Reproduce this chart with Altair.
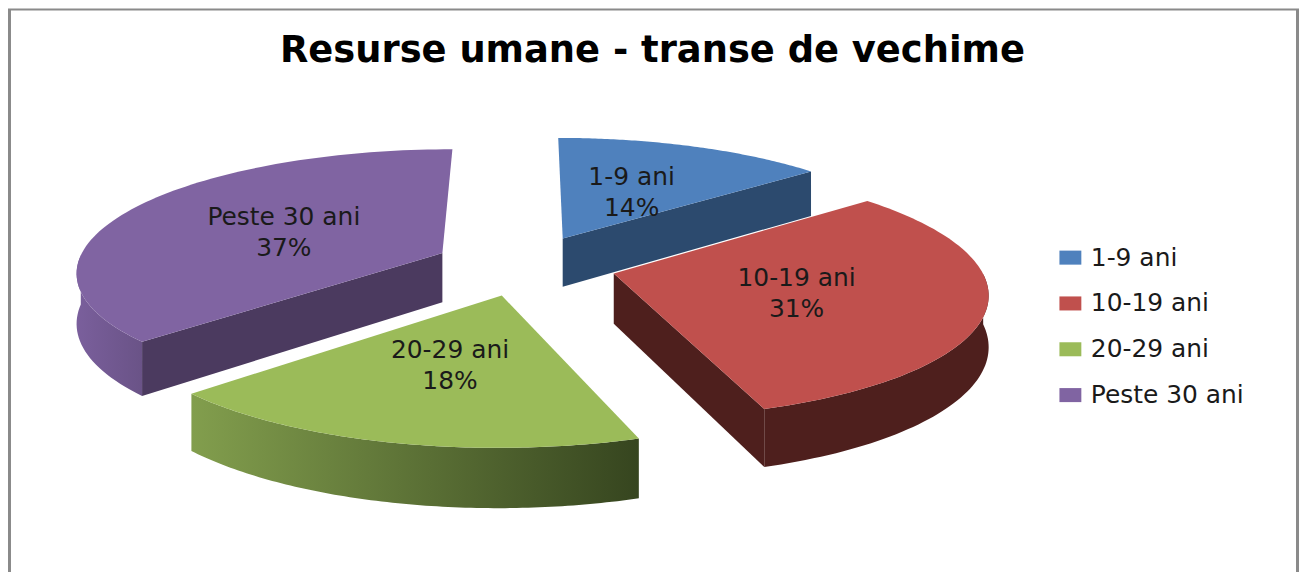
import numpy as np
import pandas as pd
import altair as alt

TITLE = "Resurse umane - transe de vechime"
categories = ["1-9 ani", "10-19 ani", "20-29 ani", "Peste 30 ani"]
shares = [14, 30.8, 18.3, 36.9]
percent_labels = ["14%", "31%", "18%", "37%"]
top_colors = ["#4f81bd", "#c0504d", "#9bbb59", "#8064a2"]
cut_colors = ["#2c4a6e", "#4e1f1d", "#3f4f24", "#4b3a5f"]
rim_stops = [
    ["#2c4a6e", "#2c4a6e"],
    ["#4e1f1d", "#4e1f1d"],
    ["#829e4d", "#36451f"],
    ["#7a5f9c", "#6a5387"],
]
draw_order = [0, 3, 2, 1]

# pie view: perspective of a tilted disc, in page pixels
CX, CY, RX, RY, PERSP, EXPLODE, DEPTH = 527, 265, 367, 122, 0.14, 0.25, 50
W, H = 1296, 565


def project(u, v, drop=0.0):
    w = 1 + PERSP * v
    return CX + RX * u / w, CY - RY * v / w + drop / w


fr = np.cumsum([0] + shares) / sum(shares) * 2 * np.pi
labels = []
layers = []
xs = alt.Scale(domain=[8, 8 + W])
ys = alt.Scale(domain=[8 + H, 8])


def poly(points, fill):
    df = pd.DataFrame(points, columns=["x", "y"])
    df["i"] = range(len(df))
    return (
        alt.Chart(df)
        .mark_line(interpolate="linear-closed", fill=fill, strokeOpacity=0, strokeWidth=0)
        .encode(
            x=alt.X("x:Q", scale=xs, axis=None),
            y=alt.Y("y:Q", scale=ys, axis=None),
            order="i:Q",
        )
    )


def grad(a, b):
    return alt.LinearGradient(
        gradient="linear", x1=0, x2=1, y1=0, y2=0,
        stops=[alt.GradientStop(color=a, offset=0), alt.GradientStop(color=b, offset=1)],
    )


for k in draw_order:
    a0, a1 = fr[k], fr[k + 1]
    mid = (a0 + a1) / 2
    ou, ov = EXPLODE * np.sin(mid), EXPLODE * np.cos(mid)
    th = np.linspace(a0, a1, 90)
    au, av = ou + np.sin(th), ov + np.cos(th)
    top = [project(ou, ov)] + [project(u, v) for u, v in zip(au, av)]
    up = top[1:]
    low = [project(u, v, DEPTH) for u, v in zip(au, av)]
    apex_t, apex_b = project(ou, ov), project(ou, ov, DEPTH)
    if np.sin(a0) < -1e-6:
        layers.append(poly([apex_t, up[0], low[0], apex_b], cut_colors[k]))
    if np.sin(a1) > 1e-6:
        layers.append(poly([apex_t, up[-1], low[-1], apex_b], cut_colors[k]))
    front = np.cos(th) < 0
    if front.any():
        fu = [p for p, f in zip(up, front) if f]
        fl = [p for p, f in zip(low, front) if f]
        layers.append(poly(fu + fl[::-1], grad(*rim_stops[k])))
    layers.append(poly(top, top_colors[k]))
    lx, ly = project(ou + 0.5 * np.sin(mid), ov + 0.5 * np.cos(mid))
    labels.append({"x": lx, "y": ly, "t": f"{categories[k]}\n{percent_labels[k]}", "cat": categories[k]})

label_df = pd.DataFrame(labels)
label_layer = (
    alt.Chart(label_df)
    .mark_text(font="DejaVu Sans", fontSize=25, color="#1a1a1a", lineBreak="\n", lineHeight=31, baseline="middle", dy=-13)
    .encode(x=alt.X("x:Q", scale=xs, axis=None), y=alt.Y("y:Q", scale=ys, axis=None), text="t:N")
)

legend_layer = (
    alt.Chart(label_df)
    .mark_point(filled=True, opacity=0, size=1)
    .encode(
        x=alt.X("x:Q", scale=xs, axis=None),
        y=alt.Y("y:Q", scale=ys, axis=None),
        color=alt.Color(
            "cat:N",
            scale=alt.Scale(domain=categories, range=top_colors),
            legend=alt.Legend(
                title=None, orient="none", legendX=1054, legendY=237,
                symbolType="M-1,-0.64L1,-0.64L1,0.64L-1,0.64Z", symbolSize=484, symbolOpacity=1,
                symbolStrokeWidth=0, labelFont="DejaVu Sans", labelFontSize=25, labelColor="#1a1a1a",
                labelLimit=300, rowPadding=20, labelOffset=8, padding=0,
            ),
        ),
    )
)

frame = [
    alt.Chart(pd.DataFrame({"a": [0]})).mark_rule(color="#8a8a8a", strokeWidth=3).encode(
        x=alt.value(1.5), y=alt.value(0), y2=alt.value(H)),
    alt.Chart(pd.DataFrame({"a": [0]})).mark_rule(color="#8a8a8a", strokeWidth=3).encode(
        x=alt.value(1294.5), y=alt.value(0), y2=alt.value(H)),
    alt.Chart(pd.DataFrame({"a": [0]})).mark_rule(color="#8a8a8a", strokeWidth=2).encode(
        y=alt.value(0.5), x=alt.value(0), x2=alt.value(1296)),
]

chart = (
    alt.layer(*frame, *layers, label_layer, legend_layer)
    .properties(
        width=W, height=H, padding=0, autosize=alt.AutoSizeParams(type="none"),
        title=alt.TitleParams(
            TITLE, anchor="start", offset=-63, dx=274,
            font="DejaVu Sans", fontSize=37, fontWeight="bold", color="#000000",
        ),
    )
    .configure_view(stroke=None)
)
chart.save("out.html", embed_options={"renderer": "svg", "actions": False})
